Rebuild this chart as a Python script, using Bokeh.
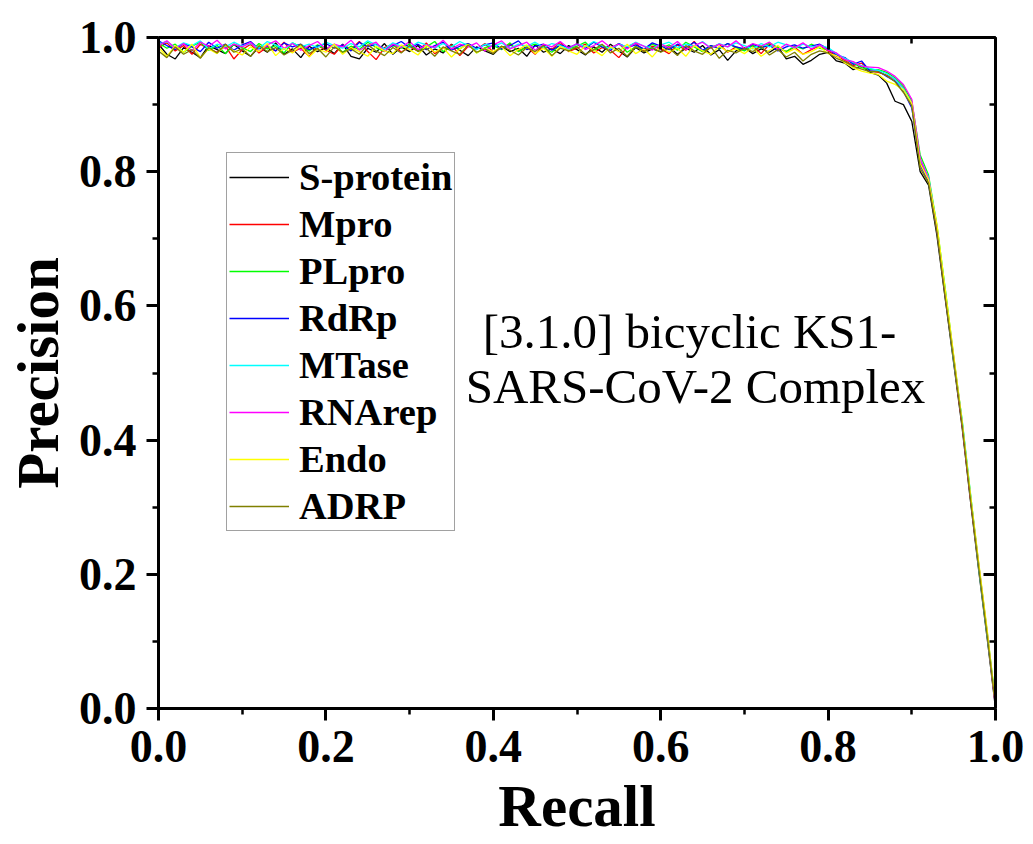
from bokeh.plotting import figure
from bokeh.models import (LinearAxis, SingleIntervalTicker, PrintfTickFormatter,
                          Legend, LegendItem, Label, Range1d)
from bokeh.embed import file_html
from bokeh.resources import INLINE

# ---------------- data ----------------
recall = [round(i * 0.01, 2) for i in range(101)]

series_names = ["S-protein", "Mpro", "PLpro", "RdRp", "MTase", "RNArep", "Endo", "ADRP"]
series_colors = ["#000000", "#ff0000", "#00ff00", "#0000ff", "#00ffff", "#ff00ff", "#ffff00", "#808000"]

s_protein = [
    0.990, 0.975, 0.968, 0.985, 0.978, 0.970, 0.988, 0.982, 0.976, 0.990,
    0.980, 0.972, 0.986, 0.978, 0.992, 0.975, 0.983, 0.970, 0.987, 0.979,
    0.985, 0.976, 0.990, 0.972, 0.968, 0.984, 0.978, 0.991, 0.975, 0.986,
    0.979, 0.988, 0.974, 0.983, 0.977, 0.990, 0.981, 0.973, 0.986, 0.980,
    0.975, 0.987, 0.979, 0.984, 0.972, 0.989, 0.978, 0.983, 0.976, 0.988,
    0.982, 0.974, 0.986, 0.978, 0.990, 0.980, 0.971, 0.985, 0.977, 0.983,
    0.979, 0.986, 0.975, 0.984, 0.978, 0.988, 0.974, 0.982, 0.966, 0.980,
    0.985, 0.976, 0.983, 0.978, 0.986, 0.968, 0.972, 0.960, 0.966, 0.975,
    0.978, 0.965, 0.962, 0.952, 0.958, 0.948, 0.944, 0.932, 0.905, 0.900,
    0.875, 0.800, 0.780, 0.705, 0.610, 0.515, 0.420, 0.310, 0.205, 0.105, 0.000]
mpro = [
    0.985, 0.992, 0.980, 0.988, 0.975, 0.990, 0.983, 0.978, 0.987, 0.968,
    0.982, 0.990, 0.977, 0.986, 0.980, 0.993, 0.978, 0.984, 0.972, 0.988,
    0.981, 0.975, 0.989, 0.983, 0.994, 0.979, 0.967, 0.985, 0.990, 0.978,
    0.986, 0.980, 0.992, 0.976, 0.984, 0.989, 0.973, 0.987, 0.982, 0.991,
    0.978, 0.985, 0.990, 0.980, 0.986, 0.975, 0.988, 0.982, 0.993, 0.979,
    0.984, 0.990, 0.977, 0.985, 0.981, 0.970, 0.986, 0.992, 0.980, 0.987,
    0.983, 0.976, 0.989, 0.981, 0.994, 0.979, 0.985, 0.990, 0.978, 0.986,
    0.981, 0.988, 0.976, 0.990, 0.984, 0.979, 0.986, 0.975, 0.982, 0.988,
    0.980, 0.972, 0.966, 0.958, 0.962, 0.950, 0.948, 0.944, 0.938, 0.925,
    0.900, 0.815, 0.790, 0.715, 0.620, 0.520, 0.425, 0.315, 0.210, 0.110, 0.005]
plpro = [
    0.992, 0.984, 0.990, 0.978, 0.987, 0.993, 0.981, 0.988, 0.976, 0.990,
    0.985, 0.979, 0.991, 0.983, 0.988, 0.977, 0.992, 0.986, 0.980, 0.989,
    0.983, 0.990, 0.978, 0.987, 0.982, 0.993, 0.985, 0.979, 0.988, 0.984,
    0.990, 0.981, 0.986, 0.994, 0.979, 0.987, 0.983, 0.991, 0.977, 0.985,
    0.988, 0.982, 0.992, 0.979, 0.986, 0.990, 0.984, 0.978, 0.989, 0.983,
    0.987, 0.993, 0.980, 0.988, 0.984, 0.991, 0.978, 0.986, 0.982, 0.990,
    0.984, 0.989, 0.981, 0.993, 0.986, 0.979, 0.988, 0.983, 0.991, 0.985,
    0.980, 0.988, 0.984, 0.992, 0.985, 0.979, 0.987, 0.983, 0.990, 0.984,
    0.982, 0.975, 0.968, 0.962, 0.955, 0.952, 0.952, 0.948, 0.940, 0.928,
    0.905, 0.825, 0.795, 0.720, 0.625, 0.525, 0.430, 0.320, 0.215, 0.115, 0.010]
rdrp = [
    0.995, 0.988, 0.982, 0.991, 0.986, 0.979, 0.993, 0.984, 0.990, 0.981,
    0.989, 0.994, 0.983, 0.988, 0.980, 0.992, 0.986, 0.990, 0.982, 0.987,
    0.991, 0.984, 0.989, 0.980, 0.993, 0.986, 0.990, 0.983, 0.988, 0.994,
    0.985, 0.990, 0.982, 0.988, 0.993, 0.981, 0.987, 0.991, 0.984, 0.989,
    0.992, 0.983, 0.988, 0.995, 0.982, 0.987, 0.990, 0.981, 0.989, 0.985,
    0.990, 0.984, 0.993, 0.986, 0.981, 0.991, 0.985, 0.989, 0.983, 0.992,
    0.987, 0.982, 0.990, 0.985, 0.993, 0.981, 0.988, 0.984, 0.991, 0.986,
    0.983, 0.990, 0.985, 0.988, 0.980, 0.986, 0.989, 0.984, 0.987, 0.990,
    0.983, 0.974, 0.970, 0.960, 0.965, 0.950, 0.950, 0.942, 0.935, 0.920,
    0.895, 0.810, 0.785, 0.712, 0.615, 0.522, 0.428, 0.318, 0.212, 0.112, 0.005]
mtase = [
    0.990, 0.994, 0.985, 0.992, 0.988, 0.995, 0.983, 0.990, 0.986, 0.993,
    0.987, 0.991, 0.984, 0.994, 0.989, 0.982, 0.992, 0.986, 0.990, 0.985,
    0.993, 0.988, 0.984, 0.991, 0.986, 0.995, 0.989, 0.983, 0.992, 0.987,
    0.985, 0.993, 0.989, 0.984, 0.991, 0.986, 0.994, 0.988, 0.982, 0.990,
    0.986, 0.992, 0.984, 0.990, 0.987, 0.993, 0.985, 0.991, 0.988, 0.983,
    0.991, 0.986, 0.994, 0.988, 0.983, 0.990, 0.986, 0.993, 0.987, 0.984,
    0.989, 0.993, 0.985, 0.990, 0.987, 0.994, 0.984, 0.991, 0.986, 0.992,
    0.988, 0.983, 0.991, 0.986, 0.993, 0.989, 0.984, 0.990, 0.986, 0.988,
    0.985, 0.976, 0.969, 0.963, 0.958, 0.954, 0.951, 0.946, 0.938, 0.924,
    0.902, 0.818, 0.792, 0.718, 0.622, 0.518, 0.432, 0.322, 0.208, 0.108, 0.008]
rnarep = [
    0.988, 0.995, 0.984, 0.991, 0.980, 0.993, 0.987, 0.996, 0.983, 0.990,
    0.986, 0.993, 0.979, 0.989, 0.995, 0.984, 0.991, 0.981, 0.988, 0.994,
    0.983, 0.990, 0.986, 0.996, 0.981, 0.988, 0.993, 0.979, 0.990, 0.985,
    0.994, 0.982, 0.989, 0.985, 0.996, 0.983, 0.990, 0.986, 0.992, 0.980,
    0.989, 0.995, 0.983, 0.988, 0.993, 0.981, 0.990, 0.986, 0.994, 0.984,
    0.991, 0.982, 0.988, 0.995, 0.985, 0.990, 0.983, 0.992, 0.987, 0.981,
    0.990, 0.985, 0.994, 0.982, 0.988, 0.993, 0.984, 0.990, 0.986, 0.995,
    0.984, 0.991, 0.987, 0.993, 0.982, 0.990, 0.985, 0.992, 0.983, 0.989,
    0.981, 0.977, 0.967, 0.964, 0.957, 0.956, 0.955, 0.950, 0.942, 0.930,
    0.908, 0.820, 0.790, 0.716, 0.618, 0.524, 0.426, 0.316, 0.214, 0.114, 0.002]
endo = [
    0.985, 0.972, 0.988, 0.978, 0.990, 0.970, 0.983, 0.976, 0.989, 0.980,
    0.974, 0.986, 0.979, 0.991, 0.973, 0.984, 0.977, 0.988, 0.971, 0.983,
    0.978, 0.990, 0.975, 0.985, 0.979, 0.972, 0.987, 0.980, 0.976, 0.989,
    0.982, 0.974, 0.988, 0.978, 0.985, 0.971, 0.983, 0.990, 0.977, 0.984,
    0.979, 0.986, 0.973, 0.982, 0.989, 0.976, 0.984, 0.972, 0.987, 0.980,
    0.975, 0.988, 0.981, 0.973, 0.986, 0.979, 0.990, 0.976, 0.983, 0.971,
    0.986, 0.978, 0.984, 0.972, 0.988, 0.980, 0.975, 0.987, 0.979, 0.983,
    0.976, 0.985, 0.972, 0.981, 0.988, 0.977, 0.983, 0.975, 0.979, 0.986,
    0.976, 0.973, 0.962, 0.955, 0.950, 0.947, 0.945, 0.935, 0.930, 0.922,
    0.902, 0.812, 0.788, 0.722, 0.624, 0.527, 0.430, 0.321, 0.217, 0.118, 0.006]
adrp = [
    0.980, 0.970, 0.986, 0.975, 0.982, 0.969, 0.985, 0.977, 0.990, 0.978,
    0.983, 0.972, 0.988, 0.979, 0.985, 0.974, 0.981, 0.990, 0.976, 0.984,
    0.971, 0.986, 0.978, 0.983, 0.975, 0.989, 0.980, 0.973, 0.985, 0.977,
    0.988, 0.979, 0.984, 0.972, 0.986, 0.980, 0.975, 0.989, 0.978, 0.983,
    0.976, 0.987, 0.981, 0.974, 0.985, 0.979, 0.988, 0.973, 0.984, 0.980,
    0.986, 0.975, 0.982, 0.990, 0.977, 0.984, 0.972, 0.987, 0.979, 0.985,
    0.978, 0.984, 0.973, 0.988, 0.980, 0.975, 0.986, 0.969, 0.981, 0.977,
    0.984, 0.979, 0.987, 0.974, 0.982, 0.971, 0.978, 0.965, 0.975, 0.980,
    0.977, 0.969, 0.964, 0.957, 0.953, 0.949, 0.949, 0.943, 0.934, 0.918,
    0.898, 0.805, 0.783, 0.710, 0.612, 0.519, 0.424, 0.313, 0.209, 0.109, 0.004]

series_values = [s_protein, mpro, plpro, rdrp, mtase, rnarep, endo, adrp]

tick_interval = 0.2
x_title = "Recall"
y_title = "Precision"
annotation_lines = ["[3.1.0] bicyclic KS1-", "SARS-CoV-2 Complex"]

# ---------------- figure ----------------
FONT = "Liberation Serif"

p = figure(width=1030, height=843, output_backend="svg", toolbar_location=None,
           x_range=Range1d(0, 1), y_range=Range1d(0, 1),
           min_border_left=158, min_border_right=35, min_border_top=37, min_border_bottom=135,
           x_axis_label=x_title, y_axis_label=y_title)
p.outline_line_color = None
p.xgrid.visible = False
p.ygrid.visible = False
p.background_fill_color = "white"
p.border_fill_color = "white"


def style_axis(ax, labelled, inward):
    ax.ticker = SingleIntervalTicker(interval=tick_interval, num_minor_ticks=2)
    ax.formatter = PrintfTickFormatter(format="%.1f")
    ax.axis_line_width = 3
    ax.axis_line_color = "black"
    ax.major_tick_line_width = 3
    ax.minor_tick_line_width = 2.5
    ax.major_tick_line_color = "black"
    ax.minor_tick_line_color = "black"
    if inward:
        ax.major_tick_in = 12
        ax.major_tick_out = 0
        ax.minor_tick_in = 6
        ax.minor_tick_out = 0
    else:
        ax.major_tick_in = 0
        ax.major_tick_out = 12
        ax.minor_tick_in = 0
        ax.minor_tick_out = 6
    if labelled:
        ax.major_label_text_font = FONT
        ax.major_label_text_font_style = "bold"
        ax.major_label_text_font_size = "46px"
        ax.major_label_text_color = "black"
        ax.axis_label_text_font = FONT
        ax.axis_label_text_font_style = "bold"
        ax.axis_label_text_font_size = "59px"
        ax.axis_label_text_color = "black"
    else:
        ax.major_label_text_font_size = "0px"
        ax.major_label_text_color = None
        ax.major_label_standoff = 0


style_axis(p.xaxis[0], True, False)
style_axis(p.yaxis[0], True, False)
p.xaxis[0].major_label_standoff = 10
p.xaxis[0].axis_label_standoff = 8
p.yaxis[0].major_label_standoff = 10
p.yaxis[0].axis_label_standoff = 5

top_axis = LinearAxis()
right_axis = LinearAxis()
style_axis(top_axis, False, True)
style_axis(right_axis, False, True)
p.add_layout(top_axis, "above")
p.add_layout(right_axis, "right")

items = []
for name, color, vals in zip(series_names, series_colors, series_values):
    r = p.line(recall, vals, line_color=color, line_width=1.3)
    items.append(LegendItem(label=name, renderers=[r]))

legend = Legend(items=items, location=(68, 177))
legend.label_text_font = FONT
legend.label_text_font_style = "bold"
legend.label_text_font_size = "38.5px"
legend.label_text_color = "black"
legend.glyph_width = 60
legend.glyph_height = 40
legend.label_height = 40
legend.label_standoff = 10
legend.spacing = 3
legend.padding = 2
legend.margin = 0
legend.border_line_color = "#444444"
legend.border_line_width = 1.5
legend.background_fill_color = "white"
legend.background_fill_alpha = 1.0
p.add_layout(legend, "center")

ann_x = [0.6344, 0.6416]
ann_y = [0.562, 0.480]
for line_text, xx, yy in zip(annotation_lines, ann_x, ann_y):
    p.add_layout(Label(x=xx, y=yy, text=line_text, text_align="center",
                       text_baseline="alphabetic", text_font=FONT,
                       text_font_size="49px", text_color="black"))

open("out.html", "w").write(file_html(p, INLINE))
